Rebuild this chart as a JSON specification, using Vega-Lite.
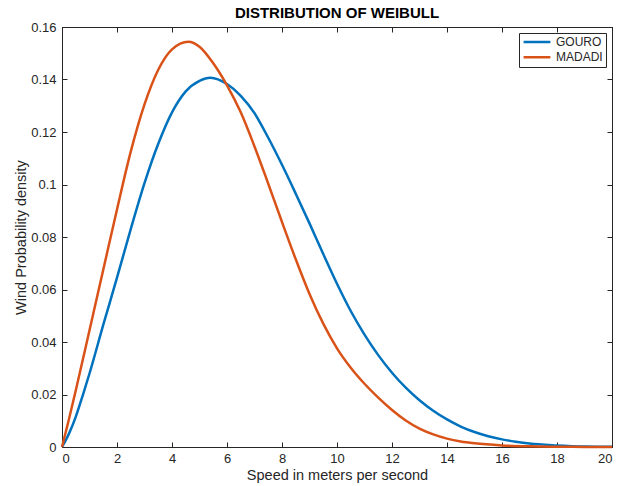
{
  "$schema": "https://vega.github.io/schema/vega-lite/v6.json",
  "width": 550,
  "height": 420,
  "autosize": {"type": "none"},
  "padding": {"left": 62, "top": 27, "right": 15, "bottom": 39},
  "background": "white",
  "title": {"text": "DISTRIBUTION OF WEIBULL", "font": "Liberation Sans", "fontSize": 15, "fontWeight": "bold", "color": "#000000", "offset": 0, "anchor": "middle"},
  "config": {
    "view": {"stroke": "#262626", "strokeWidth": 1},
    "axis": {"grid": false, "domainColor": "#262626", "tickColor": "#262626", "labelFont": "Liberation Sans", "labelFontSize": 13, "labelColor": "#262626", "titleFont": "Liberation Sans", "titleFontSize": 14.5, "titleColor": "#262626", "titleFontWeight": "normal", "tickSize": -5}
  },
  "data": {"values": [
    {"site": "GOURO", "speed": 0, "density": 0},
    {"site": "GOURO", "speed": 0.25, "density": 0.005},
    {"site": "GOURO", "speed": 0.5, "density": 0.0115},
    {"site": "GOURO", "speed": 0.75, "density": 0.0195},
    {"site": "GOURO", "speed": 1.0, "density": 0.028},
    {"site": "GOURO", "speed": 1.5, "density": 0.0465},
    {"site": "GOURO", "speed": 2.0, "density": 0.0645},
    {"site": "GOURO", "speed": 2.5, "density": 0.083},
    {"site": "GOURO", "speed": 3.0, "density": 0.1005},
    {"site": "GOURO", "speed": 3.5, "density": 0.1155},
    {"site": "GOURO", "speed": 4.0, "density": 0.1275},
    {"site": "GOURO", "speed": 4.5, "density": 0.1355},
    {"site": "GOURO", "speed": 5.0, "density": 0.1395},
    {"site": "GOURO", "speed": 5.4, "density": 0.1407},
    {"site": "GOURO", "speed": 6.0, "density": 0.1383},
    {"site": "GOURO", "speed": 6.5, "density": 0.1338},
    {"site": "GOURO", "speed": 7.0, "density": 0.1272},
    {"site": "GOURO", "speed": 7.5, "density": 0.1178},
    {"site": "GOURO", "speed": 8.0, "density": 0.1075},
    {"site": "GOURO", "speed": 8.5, "density": 0.0965},
    {"site": "GOURO", "speed": 9.0, "density": 0.0852},
    {"site": "GOURO", "speed": 9.5, "density": 0.0735},
    {"site": "GOURO", "speed": 10.0, "density": 0.0622},
    {"site": "GOURO", "speed": 10.5, "density": 0.0518},
    {"site": "GOURO", "speed": 11.0, "density": 0.0428},
    {"site": "GOURO", "speed": 11.5, "density": 0.035},
    {"site": "GOURO", "speed": 12.0, "density": 0.0283},
    {"site": "GOURO", "speed": 12.5, "density": 0.0226},
    {"site": "GOURO", "speed": 13.0, "density": 0.0178},
    {"site": "GOURO", "speed": 13.5, "density": 0.0138},
    {"site": "GOURO", "speed": 14.0, "density": 0.0105},
    {"site": "GOURO", "speed": 14.5, "density": 0.0078},
    {"site": "GOURO", "speed": 15.0, "density": 0.0057},
    {"site": "GOURO", "speed": 15.5, "density": 0.0041},
    {"site": "GOURO", "speed": 16.0, "density": 0.0029},
    {"site": "GOURO", "speed": 16.5, "density": 0.002},
    {"site": "GOURO", "speed": 17.0, "density": 0.0013},
    {"site": "GOURO", "speed": 18.0, "density": 0.0006},
    {"site": "GOURO", "speed": 19.0, "density": 0.0002},
    {"site": "GOURO", "speed": 20.0, "density": 0.0001},
    {"site": "MADADI", "speed": 0, "density": 0},
    {"site": "MADADI", "speed": 0.25, "density": 0.0105},
    {"site": "MADADI", "speed": 0.5, "density": 0.0215},
    {"site": "MADADI", "speed": 1.0, "density": 0.0445},
    {"site": "MADADI", "speed": 1.5, "density": 0.0675},
    {"site": "MADADI", "speed": 2.0, "density": 0.0905},
    {"site": "MADADI", "speed": 2.5, "density": 0.1125},
    {"site": "MADADI", "speed": 3.0, "density": 0.1305},
    {"site": "MADADI", "speed": 3.5, "density": 0.1437},
    {"site": "MADADI", "speed": 4.0, "density": 0.1515},
    {"site": "MADADI", "speed": 4.6, "density": 0.1544},
    {"site": "MADADI", "speed": 5.0, "density": 0.1525},
    {"site": "MADADI", "speed": 5.5, "density": 0.1462},
    {"site": "MADADI", "speed": 6.0, "density": 0.1378},
    {"site": "MADADI", "speed": 6.5, "density": 0.1275},
    {"site": "MADADI", "speed": 7.0, "density": 0.1145},
    {"site": "MADADI", "speed": 7.5, "density": 0.1003},
    {"site": "MADADI", "speed": 8.0, "density": 0.0857},
    {"site": "MADADI", "speed": 8.5, "density": 0.0715},
    {"site": "MADADI", "speed": 9.0, "density": 0.0583},
    {"site": "MADADI", "speed": 9.5, "density": 0.047},
    {"site": "MADADI", "speed": 10.0, "density": 0.0376},
    {"site": "MADADI", "speed": 10.5, "density": 0.0302},
    {"site": "MADADI", "speed": 11.0, "density": 0.0241},
    {"site": "MADADI", "speed": 11.5, "density": 0.0188},
    {"site": "MADADI", "speed": 12.0, "density": 0.0141},
    {"site": "MADADI", "speed": 12.5, "density": 0.0101},
    {"site": "MADADI", "speed": 13.0, "density": 0.007},
    {"site": "MADADI", "speed": 13.5, "density": 0.0048},
    {"site": "MADADI", "speed": 14.0, "density": 0.0032},
    {"site": "MADADI", "speed": 14.5, "density": 0.0021},
    {"site": "MADADI", "speed": 15.0, "density": 0.0014},
    {"site": "MADADI", "speed": 16.0, "density": 0.0006},
    {"site": "MADADI", "speed": 17.0, "density": 0.00025},
    {"site": "MADADI", "speed": 18.0, "density": 0.0001},
    {"site": "MADADI", "speed": 19.0, "density": 0.00003},
    {"site": "MADADI", "speed": 20.0, "density": 0}
  ]},
  "layer": [
    {
      "mark": {"type": "line", "strokeWidth": 2.5, "interpolate": "monotone"},
      "encoding": {
        "x": {"field": "speed", "type": "quantitative", "scale": {"domain": [0, 20], "nice": false}, "axis": {"orient": "bottom", "values": [0,2,4,6,8,10,12,14,16,18,20], "title": "Speed in meters per second", "labelPadding": 10, "titlePadding": 3}},
        "y": {"field": "density", "type": "quantitative", "scale": {"domain": [0, 0.16], "nice": false}, "axis": {"orient": "left", "values": [0,0.02,0.04,0.06,0.08,0.1,0.12,0.14,0.16], "format": "~g", "title": "Wind Probability density", "labelPadding": 11, "titlePadding": 2}},
        "color": {"field": "site", "type": "nominal", "scale": {"domain": ["GOURO", "MADADI"], "range": ["#0072BD", "#D95319"]},
          "legend": {"title": null, "orient": "top-right", "offset": 6, "strokeColor": "#262626", "fillColor": "white", "padding": 3, "symbolType": "stroke", "symbolSize": 720, "symbolStrokeWidth": 2.5, "clipHeight": 12, "labelFont": "Liberation Sans", "labelFontSize": 12, "labelColor": "#262626", "rowPadding": 3.3, "labelOffset": 4}}
      }
    },
    {
      "mark": {"type": "line", "opacity": 0},
      "encoding": {
        "x": {"field": "speed", "type": "quantitative", "axis": {"orient": "top", "values": [0,2,4,6,8,10,12,14,16,18,20], "labels": false, "title": null}},
        "y": {"field": "density", "type": "quantitative", "axis": {"orient": "right", "values": [0,0.02,0.04,0.06,0.08,0.1,0.12,0.14,0.16], "labels": false, "title": null}},
        "detail": {"field": "site"}
      }
    }
  ],
  "resolve": {"axis": {"x": "independent", "y": "independent"}}
}
